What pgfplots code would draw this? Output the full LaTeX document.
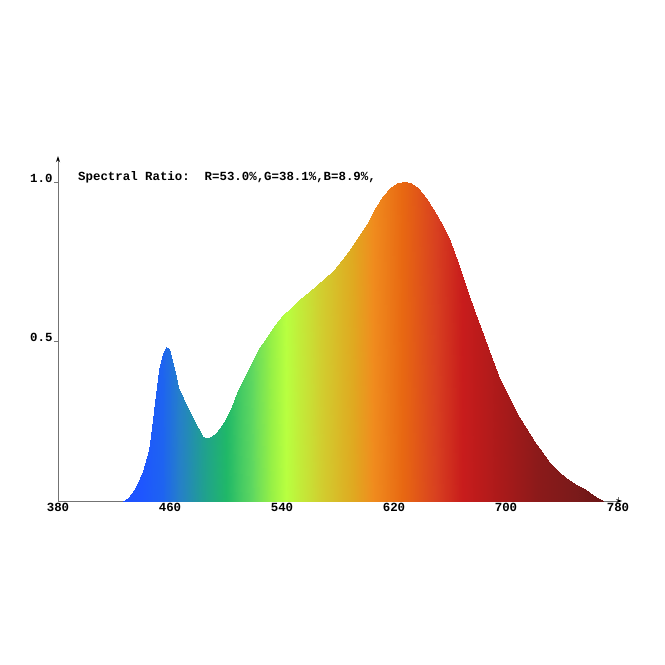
\documentclass[border=0pt]{standalone}
\usepackage{fontspec}
\setmainfont{Liberation Mono}
\usepackage{pgfplots}
\pgfplotsset{compat=1.18}
\usetikzlibrary{arrows.meta}
\begin{document}
\begin{tikzpicture}
\path[use as bounding box] (-58pt,-164pt) rectangle (607pt,501pt);
\begin{axis}[
  scale only axis,
  width=564.2pt, height=344.8pt,
  xmin=380, xmax=783, ymin=0, ymax=1.081,
  axis x line=bottom, axis y line=left,
  axis line style={draw=black!55, line width=0.7pt, -{Stealth[length=6pt,width=4pt,black]}},
  xtick={380,460,540,620,700,780},
  ytick={0.5,1.0},
  xtick align=inside, ytick align=outside,
  major tick length=4pt,
  tick style={draw=black!55, line width=0.6pt},
  yticklabels={0.5,1.0},
  /pgf/number format/assume math mode=true,
  tick label style={font=\bfseries\fontsize{12.4}{14}\selectfont},
  yticklabel style={yshift=4pt, xshift=2pt},
  xticklabel style={yshift=1pt},
  colormap={spec}{rgb255(0pt)=(30,80,255); rgb255(45pt)=(30,80,255); rgb255(60pt)=(30,86,255); rgb255(75pt)=(30,100,240); rgb255(87pt)=(37,128,200); rgb255(104pt)=(32,160,144); rgb255(120pt)=(32,184,104); rgb255(139pt)=(96,216,96); rgb255(152pt)=(150,240,70); rgb255(163pt)=(184,255,64); rgb255(187pt)=(208,208,48); rgb255(211pt)=(224,168,32); rgb255(225pt)=(240,140,30); rgb255(246pt)=(232,104,18); rgb255(270pt)=(216,64,32); rgb255(289pt)=(200,28,28); rgb255(318pt)=(168,26,26); rgb255(342pt)=(140,26,26); rgb255(370pt)=(122,26,26); rgb255(390pt)=(106,21,21); rgb255(400pt)=(100,20,20)},
  point meta min=380, point meta max=780,
  clip=false,
]
\addplot[surf, shader=interp, point meta=x, mesh/ordering=y varies, mesh/rows=2] table {
x y
426.5 0
426.5 0

431 0
431 0.012

436 0
436 0.045

441 0
441 0.095

445 0
445 0.16

447.5 0
447.5 0.23

449.5 0
449.5 0.31

452 0
452 0.41

455 0
455 0.465

457.5 0
457.5 0.482

459 0
459 0.475

461 0
461 0.452

463.5 0
463.5 0.405

466 0
466 0.358

469 0
469 0.322

472 0
472 0.295

476.5 0
476.5 0.256

480 0
480 0.228

483 0
483 0.205

485 0
485 0.197

487.5 0
487.5 0.198

490 0
490 0.203

493 0
493 0.213

497 0
497 0.237

500.5 0
500.5 0.264

504 0
504 0.297

508 0
508 0.338

512.5 0
512.5 0.38

517 0
517 0.42

521 0
521 0.455

524.5 0
524.5 0.483

529 0
529 0.515

535 0
535 0.551

541 0
541 0.583

547 0
547 0.609

553 0
553 0.632

559 0
559 0.655

565 0
565 0.677

571 0
571 0.700

577 0
577 0.725

583 0
583 0.757

589 0
589 0.793

595 0
595 0.832

600.5 0
600.5 0.870

606 0
606 0.912

612 0
612 0.955

617 0
617 0.982

622 0
622 0.996

626 0
626 1.0

629 0
629 1.0

632 0
632 0.997

637 0
637 0.982

643 0
643 0.951

650 0
650 0.901

656 0
656 0.855

660 0
660 0.815

666 0
666 0.745

672 0
672 0.663

678 0
678 0.588

684 0
684 0.515

690 0
690 0.445

696 0
696 0.380

702 0
702 0.323

708 0
708 0.272

714 0
714 0.228

720 0
720 0.189

726 0
726 0.153

731 0
731 0.123

737 0
737 0.094

743 0
743 0.071

749 0
749 0.054

755 0
755 0.040

759 0
759 0.028

762 0
762 0.019

766 0
766 0.008

770 0
770 0

};
\node[anchor=west, inner sep=0pt, font=\bfseries\fontsize{12.4}{14}\selectfont] at (axis cs:394.3,1.016) {Spectral Ratio:\ \ R=53.0\%,G=38.1\%,B=8.9\%,};
\end{axis}
\end{tikzpicture}
\end{document}
